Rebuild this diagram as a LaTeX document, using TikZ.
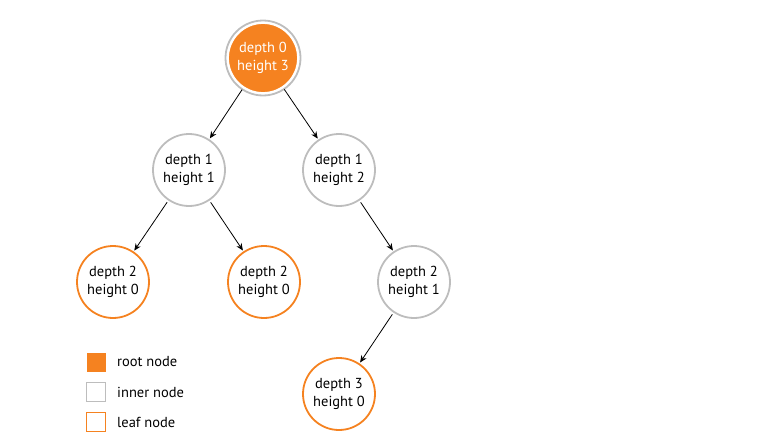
\documentclass[tikz,border=0pt]{standalone}
\usepackage{fontspec}
\setmainfont{PT Sans}
\usetikzlibrary{arrows.meta}
\definecolor{orng}{HTML}{F58220}
\definecolor{gry}{HTML}{BDBDBD}
\begin{document}
\begin{tikzpicture}[x=1pt,y=-1pt,
  every node/.style={font=\fontsize{14.5}{18}\selectfont, align=center},
  tnode/.style={circle, minimum size=72pt, inner sep=0pt, line width=1.8pt},
  innernode/.style={tnode, draw=gry},
  leafnode/.style={tnode, draw=orng},
  rootnode/.style={tnode, fill=orng, draw=white, text=white, minimum size=70pt},
  edge/.style={-{Stealth[length=7pt,width=6pt]}, line width=0.8pt, shorten <=2pt, shorten >=1pt},
  legbox/.style={minimum size=19pt, inner sep=0pt, line width=1.6pt},
  legtext/.style={anchor=west, inner sep=0pt}
]
\useasboundingbox (0,0) rectangle (772,439);
\node[rootnode] (r) at (263,58) {depth 0\\height 3};
\draw[gry, line width=1.8pt] (r.center) circle (37.5);
\node[innernode] (a) at (189,170) {depth 1\\height 1};
\node[innernode] (b) at (339,170) {depth 1\\height 2};
\node[leafnode] (c) at (113,282) {depth 2\\height 0};
\node[leafnode] (d) at (264,282) {depth 2\\height 0};
\node[innernode] (e) at (414,282) {depth 2\\height 1};
\node[leafnode] (f) at (339,394) {depth 3\\height 0};
\draw[edge] (r) -- (a);
\draw[edge] (r) -- (b);
\draw[edge] (a) -- (c);
\draw[edge] (a) -- (d);
\draw[edge] (b) -- (e);
\draw[edge] (e) -- (f);
\node[legbox, fill=orng] (l1) at (96,362) {};
\node[legbox, draw=gry] (l2) at (96,392) {};
\node[legbox, draw=orng] (l3) at (96,422) {};
\node[legtext] (t1) at (117,362) {root node};
\node[legtext] (t2) at (117,392) {inner node};
\node[legtext] (t3) at (117,422) {leaf node};
\end{tikzpicture}
\end{document}
